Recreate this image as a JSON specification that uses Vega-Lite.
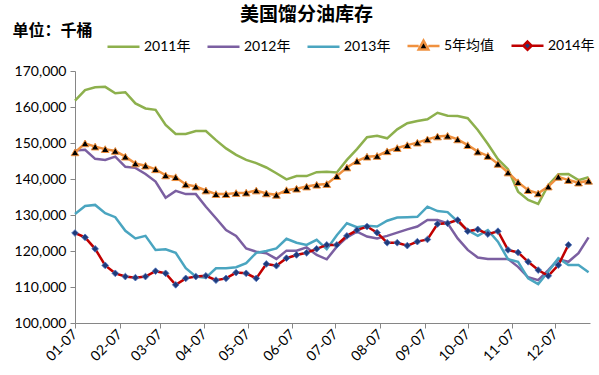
{
  "$schema": "https://vega.github.io/schema/vega-lite/v6.json",
  "width": 515,
  "height": 252,
  "autosize": {"type": "none"},
  "padding": {"left": 75, "top": 71, "right": 9, "bottom": 52},
  "background": "white",
  "config": {"view": {"stroke": null}, "font": "Lato"},
  "title": {
    "text": "美国馏分油库存",
    "font": "Noto Sans CJK SC",
    "fontSize": 19,
    "fontWeight": "bold",
    "color": "#000000",
    "anchor": "middle",
    "dx": -26,
    "dy": 11,
    "offset": 8
  },
  "data": {
    "values": [
      {"date": "2014-01-07", "2011年": 161750, "2012年": 147900, "2013年": 130300, "5年均值": 147400, "2014年": 125000},
      {"date": "2014-01-14", "2011年": 164700, "2012年": 148100, "2013年": 132500, "5年均值": 149900, "2014年": 123800},
      {"date": "2014-01-21", "2011年": 165500, "2012年": 145600, "2013年": 132800, "5年均值": 149000, "2014年": 120600},
      {"date": "2014-01-28", "2011年": 165600, "2012年": 145300, "2013年": 130500, "5年均值": 148300, "2014年": 116000},
      {"date": "2014-02-04", "2011年": 163800, "2012年": 146200, "2013年": 129400, "5年均值": 147800, "2014年": 113800},
      {"date": "2014-02-11", "2011年": 164100, "2012年": 143400, "2013年": 125600, "5年均值": 146200, "2014年": 112900},
      {"date": "2014-02-18", "2011年": 161000, "2012年": 143100, "2013年": 123500, "5年均值": 144300, "2014年": 112600},
      {"date": "2014-02-25", "2011年": 159600, "2012年": 141400, "2013年": 124200, "5年均值": 143700, "2014年": 112900},
      {"date": "2014-03-04", "2011年": 159200, "2012年": 139300, "2013年": 120300, "5年均值": 142700, "2014年": 114400},
      {"date": "2014-03-11", "2011年": 155000, "2012年": 134800, "2013年": 120500, "5年均值": 141000, "2014年": 113800},
      {"date": "2014-03-18", "2011年": 152500, "2012年": 136700, "2013年": 119500, "5年均值": 140500, "2014年": 110600},
      {"date": "2014-03-25", "2011年": 152500, "2012年": 135800, "2013年": 115200, "5年均值": 138500, "2014年": 112400},
      {"date": "2014-04-01", "2011年": 153300, "2012年": 135800, "2013年": 112900, "5年均值": 137900, "2014年": 112900},
      {"date": "2014-04-08", "2011年": 153300, "2012年": 132300, "2013年": 112600, "5年均值": 136800, "2014年": 113100},
      {"date": "2014-04-15", "2011年": 150800, "2012年": 129100, "2013年": 115200, "5年均值": 135800, "2014年": 111900},
      {"date": "2014-04-22", "2011年": 148500, "2012年": 125800, "2013年": 115200, "5年均值": 135800, "2014年": 112400},
      {"date": "2014-04-29", "2011年": 146700, "2012年": 124200, "2013年": 115500, "5年均值": 136100, "2014年": 114000},
      {"date": "2014-05-06", "2011年": 145300, "2012年": 120700, "2013年": 116600, "5年均值": 136200, "2014年": 113800},
      {"date": "2014-05-13", "2011年": 144400, "2012年": 119800, "2013年": 119500, "5年均值": 136800, "2014年": 112400},
      {"date": "2014-05-20", "2011年": 143200, "2012年": 119400, "2013年": 120000, "5年均值": 136000, "2014年": 116400},
      {"date": "2014-05-27", "2011年": 141600, "2012年": 117800, "2013年": 120700, "5年均值": 135600, "2014年": 115900},
      {"date": "2014-06-03", "2011年": 139900, "2012年": 120100, "2013年": 123400, "5年均值": 136900, "2014年": 118000},
      {"date": "2014-06-10", "2011年": 140800, "2012年": 120100, "2013年": 122300, "5年均值": 137300, "2014年": 118900},
      {"date": "2014-06-17", "2011年": 140800, "2012年": 121000, "2013年": 121700, "5年均值": 137900, "2014年": 119500},
      {"date": "2014-06-24", "2011年": 141900, "2012年": 118900, "2013年": 123100, "5年均值": 138400, "2014年": 120600},
      {"date": "2014-07-01", "2011年": 142000, "2012年": 117700, "2013年": 120500, "5年均值": 138600, "2014年": 121700},
      {"date": "2014-07-08", "2011年": 141800, "2012年": 121200, "2013年": 124400, "5年均值": 140800, "2014年": 121700},
      {"date": "2014-07-15", "2011年": 145300, "2012年": 123800, "2013年": 127700, "5年均值": 143200, "2014年": 124200},
      {"date": "2014-07-22", "2011年": 148300, "2012年": 125400, "2013年": 126600, "5年均值": 145000, "2014年": 125800},
      {"date": "2014-07-29", "2011年": 151600, "2012年": 124000, "2013年": 127000, "5年均值": 146200, "2014年": 126800},
      {"date": "2014-08-05", "2011年": 152000, "2012年": 123500, "2013年": 126800, "5年均值": 146400, "2014年": 125100},
      {"date": "2014-08-12", "2011年": 151300, "2012年": 124200, "2013年": 128400, "5年均值": 147700, "2014年": 122300},
      {"date": "2014-08-19", "2011年": 153800, "2012年": 125100, "2013年": 129300, "5年均值": 148600, "2014年": 122300},
      {"date": "2014-08-26", "2011年": 155500, "2012年": 126000, "2013年": 129400, "5年均值": 149400, "2014年": 121500},
      {"date": "2014-09-02", "2011年": 156100, "2012年": 126800, "2013年": 129500, "5年均值": 150100, "2014年": 122600},
      {"date": "2014-09-09", "2011年": 156600, "2012年": 128600, "2013年": 132300, "5年均值": 151000, "2014年": 123200},
      {"date": "2014-09-16", "2011年": 158400, "2012年": 128600, "2013年": 131100, "5年均值": 151800, "2014年": 127500},
      {"date": "2014-09-23", "2011年": 157600, "2012年": 127700, "2013年": 130800, "5年均值": 152000, "2014年": 127700},
      {"date": "2014-09-30", "2011年": 157500, "2012年": 123500, "2013年": 128200, "5年均值": 151000, "2014年": 128600},
      {"date": "2014-10-07", "2011年": 156900, "2012年": 120300, "2013年": 125800, "5年均值": 149400, "2014年": 125500},
      {"date": "2014-10-14", "2011年": 153600, "2012年": 118200, "2013年": 124200, "5年均值": 147600, "2014年": 126000},
      {"date": "2014-10-21", "2011年": 149700, "2012年": 117800, "2013年": 125800, "5年均值": 146400, "2014年": 124700},
      {"date": "2014-10-28", "2011年": 145500, "2012年": 117800, "2013年": 122600, "5年均值": 144200, "2014年": 125500},
      {"date": "2014-11-04", "2011年": 142700, "2012年": 117800, "2013年": 117700, "5年均值": 141800, "2014年": 120300},
      {"date": "2014-11-11", "2011年": 136500, "2012年": 115600, "2013年": 117000, "5年均值": 139100, "2014年": 119600},
      {"date": "2014-11-18", "2011年": 134200, "2012年": 112700, "2013年": 112400, "5年均值": 136900, "2014年": 117000},
      {"date": "2014-11-25", "2011年": 133100, "2012年": 111900, "2013年": 110800, "5年均值": 136000, "2014年": 114700},
      {"date": "2014-12-02", "2011年": 138300, "2012年": 114700, "2013年": 114300, "5年均值": 137900, "2014年": 113100},
      {"date": "2014-12-09", "2011年": 141300, "2012年": 117700, "2013年": 118000, "5年均值": 140600, "2014年": 116100},
      {"date": "2014-12-16", "2011年": 141400, "2012年": 117000, "2013年": 116100, "5年均值": 139700, "2014年": 121700},
      {"date": "2014-12-23", "2011年": 139700, "2012年": 119400, "2013年": 116100, "5年均值": 139000, "2014年": null},
      {"date": "2014-12-30", "2011年": 140500, "2012年": 123800, "2013年": 114100, "5年均值": 139500, "2014年": null}
    ]
  },
  "transform": [
    {"fold": ["2011年", "2012年", "2013年", "5年均值", "2014年"], "as": ["series", "value"]}
  ],
  "encoding": {
    "x": {
      "field": "date",
      "type": "temporal",
      "scale": {
        "type": "utc",
        "domain": [
          {"year": 2014, "month": 1, "date": 7, "utc": true},
          {"year": 2014, "month": 12, "date": 31, "utc": true}
        ]
      },
      "axis": {
        "title": null,
        "grid": false,
        "format": "%m-%d",
        "values": [
          {"year": 2014, "month": 1, "date": 7, "utc": true},
          {"year": 2014, "month": 2, "date": 7, "utc": true},
          {"year": 2014, "month": 3, "date": 7, "utc": true},
          {"year": 2014, "month": 4, "date": 7, "utc": true},
          {"year": 2014, "month": 5, "date": 7, "utc": true},
          {"year": 2014, "month": 6, "date": 7, "utc": true},
          {"year": 2014, "month": 7, "date": 7, "utc": true},
          {"year": 2014, "month": 8, "date": 7, "utc": true},
          {"year": 2014, "month": 9, "date": 7, "utc": true},
          {"year": 2014, "month": 10, "date": 7, "utc": true},
          {"year": 2014, "month": 11, "date": 7, "utc": true},
          {"year": 2014, "month": 12, "date": 7, "utc": true}
        ],
        "labelAngle": -45,
        "labelAlign": "right",
        "labelBaseline": "middle",
        "labelFont": "Lato",
        "labelFontSize": 14,
        "labelColor": "#000000",
        "labelPadding": 4,
        "labelOverlap": false,
        "labelFlush": false,
        "tickSize": 5,
        "tickColor": "#868686",
        "domainColor": "#868686"
      }
    },
    "y": {
      "field": "value",
      "type": "quantitative",
      "scale": {"domain": [100000, 170000], "nice": false, "zero": false},
      "axis": {
        "title": "单位：千桶",
        "titleAngle": 0,
        "titleX": -63,
        "titleY": -41,
        "titleAlign": "left",
        "titleBaseline": "middle",
        "titleFont": "Noto Sans CJK SC",
        "titleFontSize": 16,
        "titleFontWeight": "bold",
        "titleColor": "#000000",
        "grid": false,
        "values": [100000, 110000, 120000, 130000, 140000, 150000, 160000, 170000],
        "format": ",d",
        "labelFont": "Lato",
        "labelFontSize": 14,
        "labelColor": "#000000",
        "labelPadding": 4,
        "tickSize": 5,
        "tickColor": "#868686",
        "domainColor": "#868686"
      }
    }
  },
  "layer": [
    {
      "mark": {"type": "line", "interpolate": "linear"},
      "encoding": {
        "color": {
          "field": "series",
          "type": "nominal",
          "scale": {
            "domain": ["2011年", "2012年", "2013年", "5年均值", "2014年"],
            "range": ["#8DB04D", "#7B5FA1", "#4AA5C0", "#F0913F", "#C00000"]
          },
          "legend": {
            "orient": "none",
            "legendX": 31,
            "legendY": -43,
            "direction": "horizontal",
            "title": null,
            "padding": 0,
            "symbolSize": 1024,
            "symbolStrokeWidth": 3,
            "labelFont": "Lato, Noto Sans CJK SC",
            "labelFontSize": 14,
            "labelColor": "#000000",
            "labelOffset": 3,
            "columnPadding": 11,
            "encoding": {
              "symbols": {
                "shape": {"value": {"expr": "datum.value === '5年均值' ? 'M-1,0H-0.3M0.3,0H1M0,-0.34L0.3,0.22L-0.3,0.22Z' : datum.value === '2014年' ? 'M-1,0H-0.26M0.26,0H1M0,-0.26L0.26,0L0,0.26L-0.26,0Z' : 'stroke'"}},
                "fill": {"value": {"expr": "datum.value === '5年均值' ? '#000000' : datum.value === '2014年' ? '#1F3B7A' : 'transparent'"}}
              }
            }
          }
        },
        "strokeWidth": {
          "field": "series",
          "type": "nominal",
          "scale": {
            "domain": ["2011年", "2012年", "2013年", "5年均值", "2014年"],
            "range": [2.5, 2.5, 2.5, 3.5, 2.5]
          },
          "legend": null
        }
      }
    },
    {
      "transform": [{"filter": "datum.series === '5年均值'"}],
      "mark": {"type": "point", "shape": "triangle-up", "filled": true, "fill": "#000000", "stroke": "#F0913F", "strokeWidth": 1, "size": 60, "opacity": 1}
    },
    {
      "transform": [{"filter": "datum.series === '2014年' && datum.value != null"}],
      "mark": {"type": "point", "shape": "diamond", "filled": true, "fill": "#1F3B7A", "stroke": "#4F74C0", "strokeWidth": 0.8, "size": 45, "opacity": 1}
    }
  ]
}
